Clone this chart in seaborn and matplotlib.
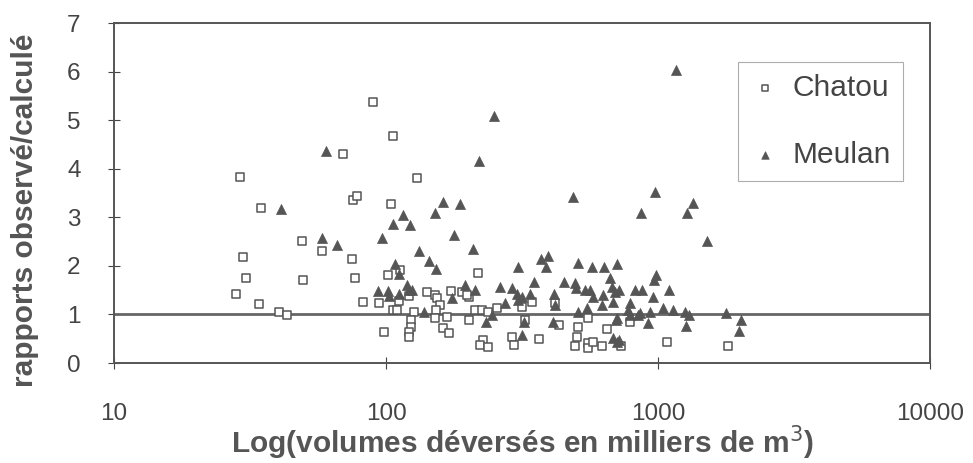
import numpy as np
import pandas as pd
import matplotlib
matplotlib.use("Agg")
import matplotlib.pyplot as plt
import seaborn as sns

# ---- data ----
chatou_volume = [29.0, 34.7, 49.0, 58.0, 29.9, 30.5, 49.7, 28.0, 34.1, 40.5, 43.2, 69.5,
                 89.8, 106, 130, 75.5, 78.0, 104, 75.2, 76.9, 82.6, 94.5, 102, 113,
                 106, 110, 112, 122, 98.6, 127, 124, 124, 122, 122, 141, 151,
                 154, 158, 153, 152, 167, 162, 171, 173, 190, 202, 218, 199,
                 202, 212, 225, 238, 255, 228, 222, 238, 290, 296, 315, 324,
                 343, 365, 418, 433, 509, 505, 495, 555, 555, 555, 578, 621,
                 647, 731, 789, 1079, 1803]
chatou_ratio = [3.82, 3.20, 2.51, 2.30, 2.19, 1.74, 1.71, 1.43, 1.21, 1.06, 0.99, 4.30,
                5.38, 4.68, 3.80, 3.35, 3.44, 3.27, 2.15, 1.74, 1.25, 1.24, 1.81, 1.91,
                1.09, 1.09, 1.28, 1.38, 0.64, 1.06, 0.88, 0.75, 0.64, 0.54, 1.47, 1.41,
                1.33, 1.19, 1.09, 0.92, 0.94, 0.73, 0.61, 1.48, 1.47, 1.36, 1.85, 1.40,
                0.88, 1.09, 1.09, 1.06, 1.13, 0.47, 0.37, 0.32, 0.53, 0.37, 1.16, 0.88,
                1.26, 0.49, 1.23, 0.78, 0.75, 0.54, 0.34, 0.92, 0.41, 0.30, 0.44, 0.35,
                0.71, 0.36, 0.85, 0.43, 0.35]

meulan_volume = [41.1, 58.0, 66.2, 60.1, 250, 220, 162, 187, 486, 152, 115, 106,
                 123, 96.8, 178, 132, 208, 144, 153, 108, 112, 306, 371, 394,
                 388, 508, 119, 93.8, 102, 103, 112, 125, 122, 138, 175, 195,
                 212, 262, 291, 302, 306, 317, 338, 350, 274, 416, 418, 453,
                 495, 500, 540, 547, 233, 246, 315, 322, 412, 509, 570, 635,
                 709, 666, 984, 967, 822, 871, 1097, 562, 578, 630, 676, 695,
                 719, 685, 961, 624, 789, 778, 789, 859, 935, 1045, 1138, 1257,
                 1303, 920, 1268, 702, 709, 685, 705, 1164, 975, 1343, 865, 1280,
                 1514, 1778, 2014, 1990, 718, 846]
meulan_ratio = [3.18, 2.57, 2.43, 4.37, 5.09, 4.16, 3.31, 3.27, 3.42, 3.09, 3.05, 2.87,
                2.84, 2.58, 2.63, 2.30, 2.34, 2.10, 1.94, 2.04, 1.83, 1.97, 2.14, 2.21,
                1.98, 2.05, 1.61, 1.48, 1.48, 1.37, 1.42, 1.51, 1.50, 1.05, 1.33, 1.61,
                1.50, 1.56, 1.55, 1.43, 1.30, 1.36, 1.43, 1.67, 1.23, 1.43, 1.19, 1.67,
                1.65, 1.54, 1.50, 1.13, 0.85, 0.99, 0.58, 0.85, 0.85, 1.06, 1.97, 1.97,
                2.04, 1.74, 1.81, 1.71, 1.50, 1.50, 1.50, 1.50, 1.36, 1.40, 1.57, 1.47,
                1.50, 1.26, 1.36, 1.19, 1.23, 1.09, 0.99, 1.03, 1.06, 1.13, 1.10, 1.06,
                0.99, 0.82, 0.76, 0.88, 0.92, 0.51, 0.44, 6.03, 3.52, 3.30, 3.08, 3.08,
                2.52, 1.03, 0.88, 0.66, 0.47, 0.99]

series_names = ["Chatou", "Meulan"]
x_ticks = [10, 100, 1000, 10000]
y_ticks = [0, 1, 2, 3, 4, 5, 6, 7]
reference_level = 1

df_c = pd.DataFrame({"volume": chatou_volume, "ratio": chatou_ratio})
df_m = pd.DataFrame({"volume": meulan_volume, "ratio": meulan_ratio})

sns.set_theme(style="white")
plt.rcParams["font.family"] = ["Liberation Sans", "DejaVu Sans"]

GRAY = "#555555"
fig = plt.figure(figsize=(9.73, 4.63), dpi=100)
ax = fig.add_axes([114 / 973, 1 - 363 / 463, (930 - 114) / 973, (363 - 23) / 463])

ax.axhline(reference_level, color="#666666", lw=2.0, zorder=1)

sns.scatterplot(data=df_c, x="volume", y="ratio", ax=ax, marker="s", s=32,
                facecolor="white", edgecolor=GRAY, linewidth=1.1,
                label=series_names[0], zorder=3)
sns.scatterplot(data=df_m, x="volume", y="ratio", ax=ax, marker="^", s=52,
                color=GRAY, edgecolor=GRAY, linewidth=0.5,
                label=series_names[1], zorder=3)

ax.set_xscale("log")
ax.set_xlim(10, 10000)
ax.set_ylim(0, 7)
ax.set_xticks(x_ticks)
ax.set_xticklabels([str(t) for t in x_ticks])
ax.xaxis.set_minor_locator(matplotlib.ticker.NullLocator())
ax.set_yticks(y_ticks)
ax.set_yticklabels([str(t) for t in y_ticks])

ax.tick_params(axis="both", labelsize=17.5, colors="#444444", direction="inout",
               length=8, width=0.8, left=True, bottom=True)
ax.tick_params(axis="x", pad=25)
ax.tick_params(axis="y", pad=20)
for sp in ax.spines.values():
    sp.set_color("#555555")
    sp.set_linewidth(1.4)

ax.set_xlabel("Log(volumes déversés en milliers de m$^3$)", fontsize=21.5,
              fontweight="bold", color="#555555")
ax.set_ylabel("rapports observé/calculé", fontsize=21.5, fontweight="bold",
              color="#555555")
ax.xaxis.set_label_coords(0.5, -0.178)
ax.yaxis.set_label_coords(-0.092, 0.45)

leg = ax.legend(loc="upper left", bbox_to_anchor=(0.765, 0.885), fontsize=21.5,
                frameon=True, fancybox=False, borderpad=0.4, labelspacing=1.31,
                handletextpad=0.42, markerscale=0.75, handlelength=1.0,
                borderaxespad=0)
leg.get_frame().set_edgecolor("#999999")
leg.get_frame().set_linewidth(0.8)
for t in leg.get_texts():
    t.set_color("#444444")

fig.savefig("out.png", dpi=100)
